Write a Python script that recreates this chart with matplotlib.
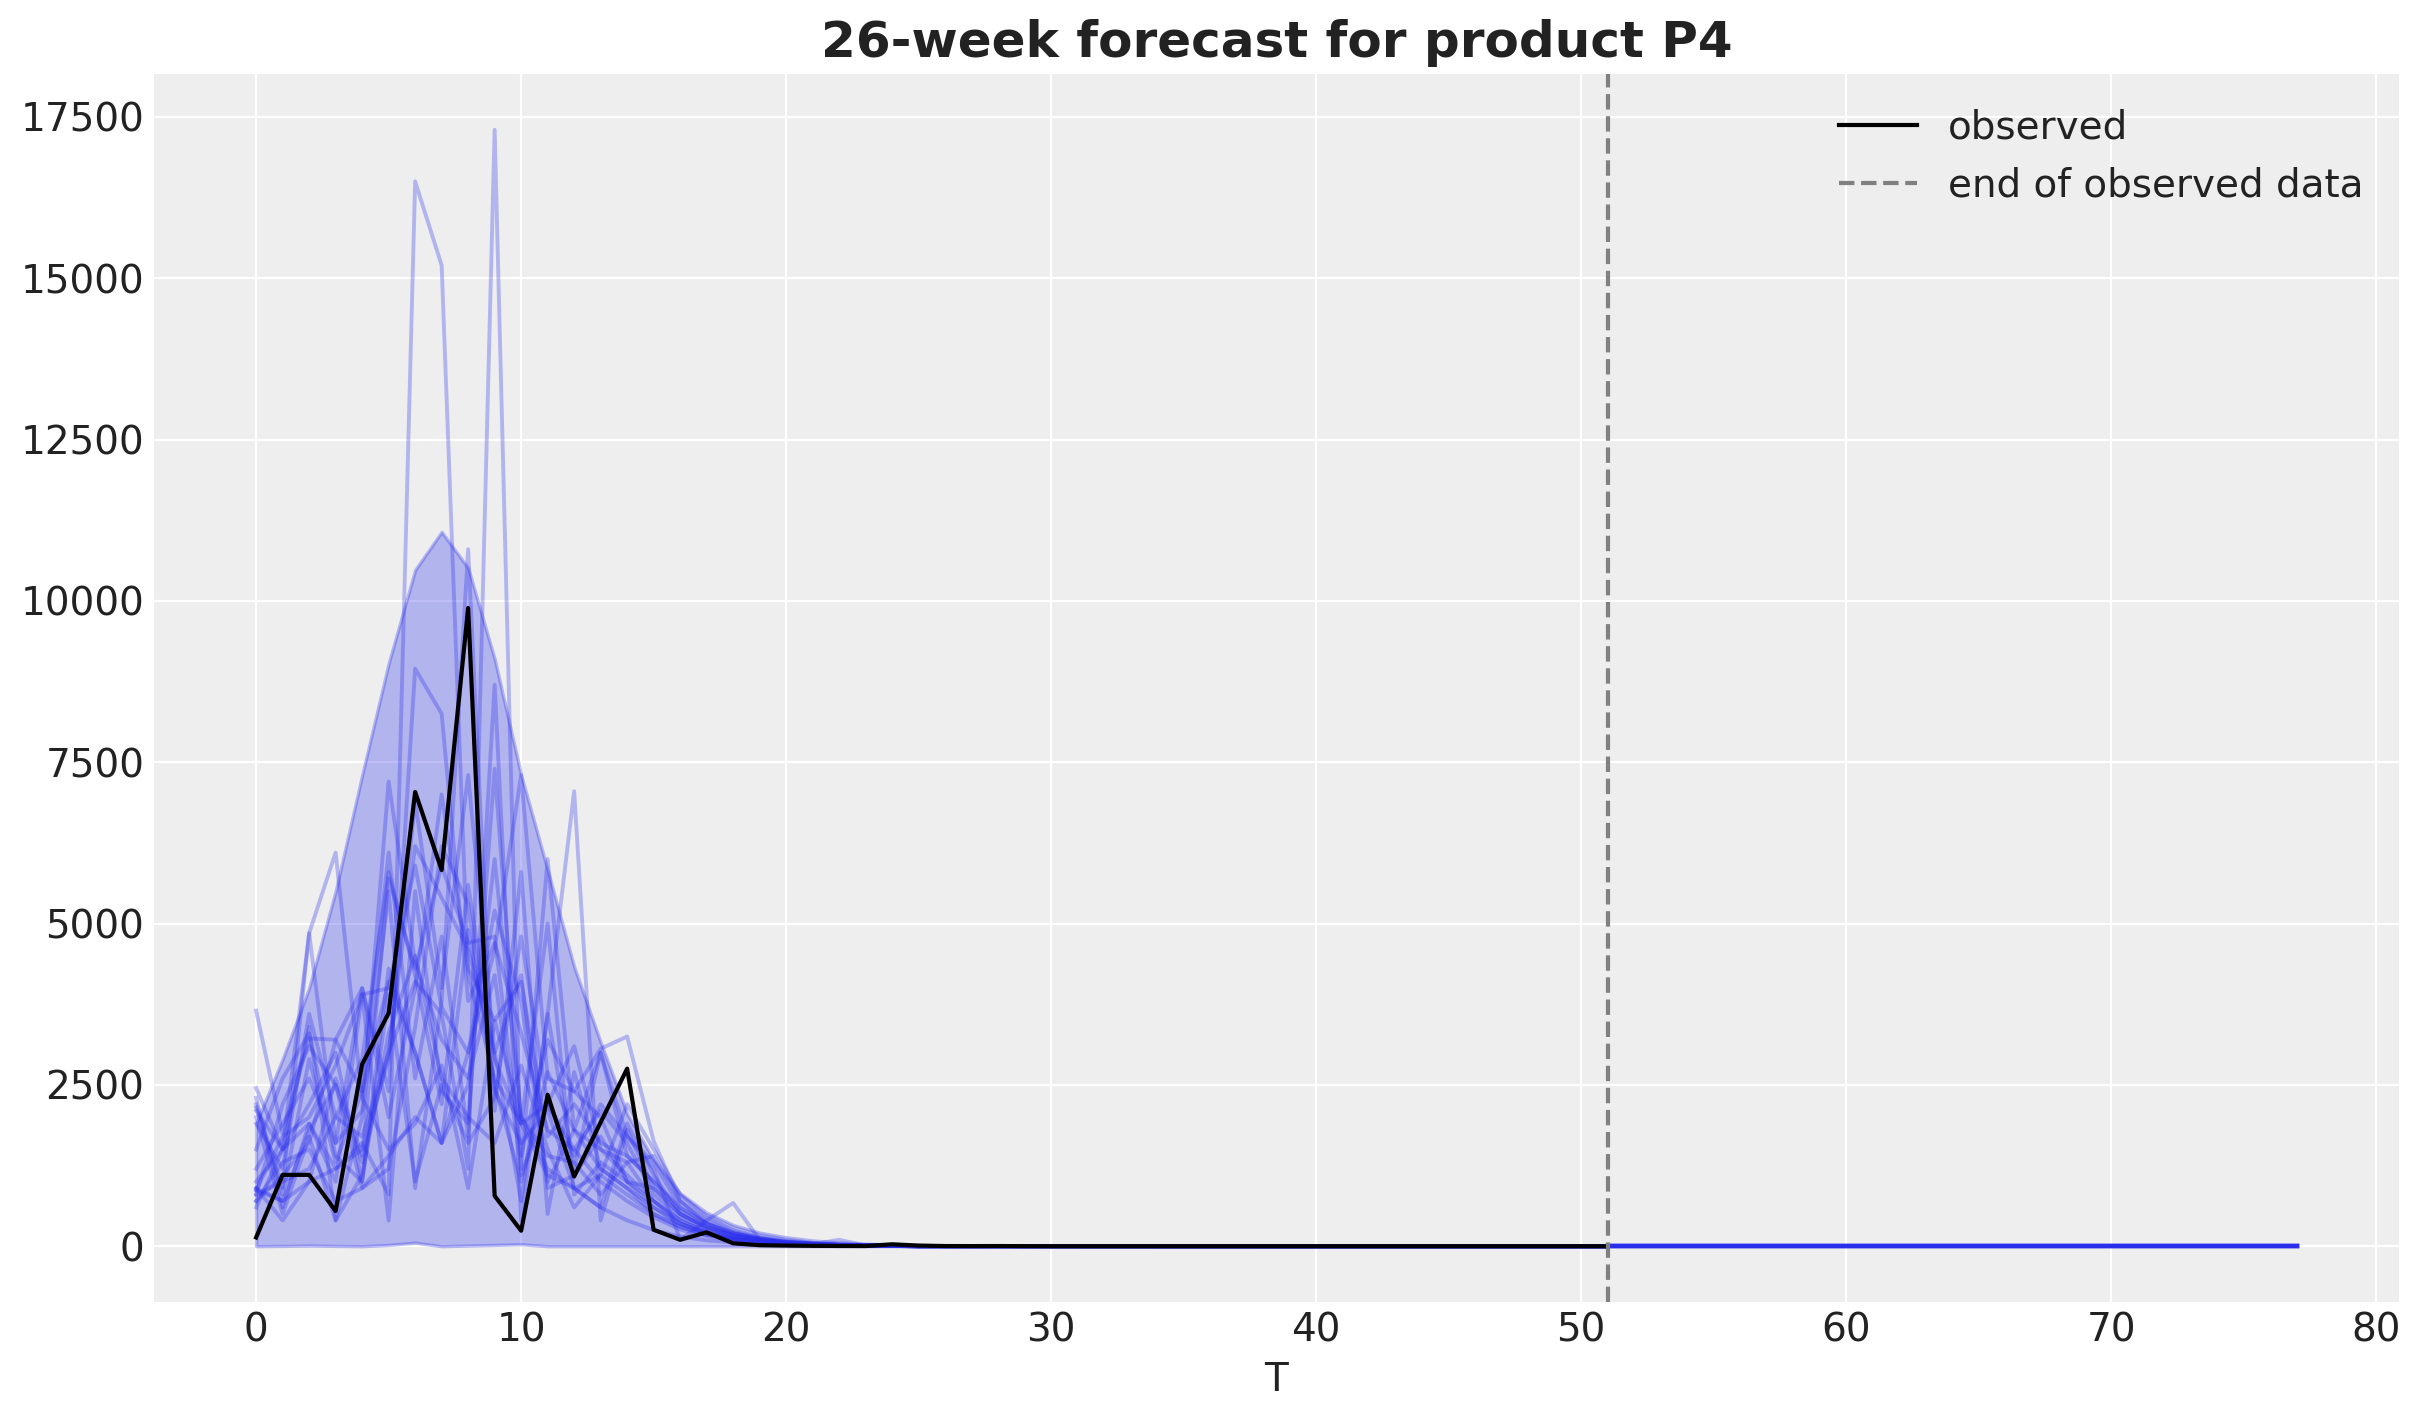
import numpy as np
import matplotlib
matplotlib.use("Agg")
import matplotlib.pyplot as plt

# ---------------- data ----------------
T_obs = np.arange(52)
observed = [136, 1106, 1106, 545, 2821, 3611, 7040, 5830, 9890, 780,
            240, 2347, 1080, 1920, 2752, 255, 100, 215, 45, 16,
            10, 6, 4, 3, 30, 10, 3, 2, 3, 1,
            0, 0, 0, 0, 0, 0, 0, 0, 0, 0,
            0, 0, 0, 0, 0, 0, 0, 0, 0, 0,
            0, 0]

hdi_upper = [1900, 2900, 4000, 5500, 7300, 9030, 10480, 11070, 10510, 9100,
             7300, 5830, 4330, 3160, 2050, 1340, 820, 520, 330, 210,
             140, 90, 60, 40, 28, 20, 14, 10, 7, 5,
             4, 3, 2, 2, 1, 1, 1, 1, 0, 0,
             0, 0, 0, 0, 0, 0, 0, 0, 0, 0,
             0, 0]
hdi_lower = [0, 5, 10, 5, 0, 20, 55, 0, 10, 20,
             30, 0, 0, 0, 0, 0, 0, 0, 0, 0,
             0, 0, 0, 0, 0, 0, 0, 0, 0, 0,
             0, 0, 0, 0, 0, 0, 0, 0, 0, 0,
             0, 0, 0, 0, 0, 0, 0, 0, 0, 0,
             0, 0]

# posterior predictive sample paths (first 25 weeks; afterwards ~0)
s01 = [2100, 1500, 1900, 1200, 1600, 800, 16500, 15200, 4200, 2600, 1900, 1100, 900, 600, 400, 250, 150, 90, 60, 40, 25, 15, 10, 5, 3]
s02 = [900, 700, 1800, 2500, 1300, 3000, 4100, 3600, 1200, 17300, 1100, 2200, 1500, 1000, 700, 450, 260, 160, 100, 60, 40, 25, 15, 10, 5]
s03 = [2450, 1500, 3400, 400, 2000, 5500, 900, 3800, 10800, 2100, 5800, 500, 2700, 1200, 900, 500, 300, 180, 110, 70, 40, 25, 15, 8, 4]
s04 = [700, 1100, 1600, 3200, 4000, 2400, 8950, 8250, 3800, 4700, 3300, 1800, 1500, 2100, 1600, 800, 450, 260, 160, 100, 60, 40, 25, 15, 8]
s05 = [2150, 800, 2900, 1300, 2400, 6100, 2600, 4800, 1700, 8700, 400, 3600, 1200, 3000, 1700, 1300, 600, 350, 200, 120, 70, 40, 25, 15, 8]
s06 = [870, 1700, 2000, 2800, 3900, 400, 5500, 2400, 1900, 7400, 1900, 2200, 3100, 1500, 1100, 700, 400, 230, 130, 80, 45, 30, 15, 9, 5]
s07 = [1900, 1200, 3600, 2000, 1700, 3000, 6200, 5400, 4600, 3000, 700, 3600, 7050, 400, 1800, 900, 500, 290, 170, 100, 60, 35, 20, 12, 6]
s08 = [2200, 900, 4850, 1600, 2100, 7200, 4400, 3200, 2600, 4200, 1200, 6000, 1800, 3000, 1400, 1000, 550, 300, 180, 110, 60, 35, 20, 12, 6]
s09 = [600, 1500, 4850, 6100, 2300, 1500, 1900, 2800, 900, 3500, 2000, 1200, 900, 1100, 800, 500, 300, 180, 100, 60, 35, 20, 12, 7, 4]
s10 = [3650, 1750, 3220, 3200, 2400, 4100, 3000, 1600, 4900, 2500, 1000, 2700, 1800, 1500, 1300, 700, 350, 200, 120, 70, 40, 25, 15, 8, 4]
s11 = [2300, 600, 1900, 1000, 3900, 4000, 5900, 3700, 3000, 4600, 7300, 2600, 2400, 2000, 1000, 600, 350, 210, 120, 70, 40, 25, 15, 8, 4]
s12 = [870, 700, 1000, 2600, 1400, 5700, 4300, 5900, 4700, 4800, 1400, 3200, 2400, 3060, 3250, 1630, 700, 350, 200, 120, 70, 40, 25, 15, 8]
s13 = [700, 1300, 1500, 700, 900, 1400, 2000, 1600, 3000, 5200, 3800, 1000, 1800, 1200, 900, 600, 340, 200, 110, 60, 35, 20, 12, 7, 3]
s14 = [1500, 2600, 3300, 1400, 1000, 3900, 1000, 2500, 1600, 2300, 4800, 2200, 1400, 2200, 1700, 1200, 100, 400, 670, 100, 40, 25, 15, 8, 4]
s15 = [2000, 500, 1700, 400, 1100, 3300, 4500, 2600, 2000, 1600, 2800, 1500, 600, 1100, 2200, 1500, 800, 450, 250, 140, 80, 45, 25, 12, 6]
s16 = [900, 400, 1000, 1200, 1500, 2900, 6900, 4000, 7300, 3000, 4200, 900, 1100, 1700, 1000, 700, 400, 220, 120, 70, 40, 20, 12, 6, 3]
s17 = [800, 1000, 1200, 2000, 2900, 5800, 4200, 2200, 5600, 2900, 1900, 5000, 800, 1300, 1000, 900, 500, 300, 170, 100, 55, 30, 18, 10, 5]
s18 = [1200, 1900, 2600, 1600, 4000, 2000, 4000, 7000, 4300, 3500, 4100, 1700, 2200, 1600, 1400, 1000, 600, 350, 200, 110, 60, 35, 20, 12, 6]
s19 = [800, 2200, 3100, 2500, 900, 1200, 3400, 6200, 5300, 2400, 1600, 2100, 900, 600, 1900, 1100, 500, 280, 160, 90, 50, 30, 100, 10, 5]
s20 = [1000, 1500, 2200, 3000, 1000, 4300, 3000, 1600, 2500, 6000, 2000, 1400, 1300, 800, 1300, 1400, 700, 380, 220, 130, 70, 40, 25, 14, 7]
samples = [s01, s02, s03, s04, s05, s06, s07, s08, s09, s10,
           s11, s12, s13, s14, s15, s16, s17, s18, s19, s20]
tail_zeros = [0] * 27          # weeks 25..51 read as ~0

T_fc = np.arange(51, 78)
forecast = [0] * 27            # forecast paths for weeks 51..77 (all ~0)

end_of_obs = 51

# ---------------- style ----------------
C0 = "#2a2eec"
plt.rcParams.update({
    "font.family": ["DejaVu Sans"],
    "axes.facecolor": "#eeeeee",
    "figure.facecolor": "white",
    "axes.edgecolor": "white",
    "axes.grid": True,
    "grid.color": "white",
    "grid.linewidth": 0.8,
    "axes.axisbelow": True,
    "xtick.major.size": 0,
    "ytick.major.size": 0,
    "text.color": "#222222",
    "axes.labelcolor": "#222222",
    "xtick.color": "#222222",
    "ytick.color": "#222222",
})

fig = plt.figure(figsize=(2423 / 200, 1423 / 200), dpi=200)
ax = fig.add_axes([0.0636, 0.085, 0.990 - 0.0636, 0.948 - 0.085])
for sp in ax.spines.values():
    sp.set_visible(False)

ax.fill_between(T_obs, hdi_lower, hdi_upper, color=C0, alpha=0.3, linewidth=1.2)
for s in samples:
    ax.plot(T_obs, list(s) + tail_zeros, color=C0, alpha=0.3, lw=1.4)
for s in samples:
    ax.plot(T_fc, forecast, color=C0, alpha=0.3, lw=1.5)
ax.plot(T_obs, observed, color="black", lw=1.5, label="observed")
ax.axvline(end_of_obs, color="gray", ls="--", lw=1.5, label="end of observed data")

ax.set_title("26-week forecast for product P4", fontsize=18, fontweight="bold")
ax.set_xlabel("T", fontsize=14)
ax.tick_params(labelsize=14)
ax.set_xticks([0, 10, 20, 30, 40, 50, 60, 70, 80])
ax.set_yticks([0, 2500, 5000, 7500, 10000, 12500, 15000, 17500])
ax.legend(loc="upper right", frameon=False, fontsize=14)

fig.savefig("out.png", dpi=200)
